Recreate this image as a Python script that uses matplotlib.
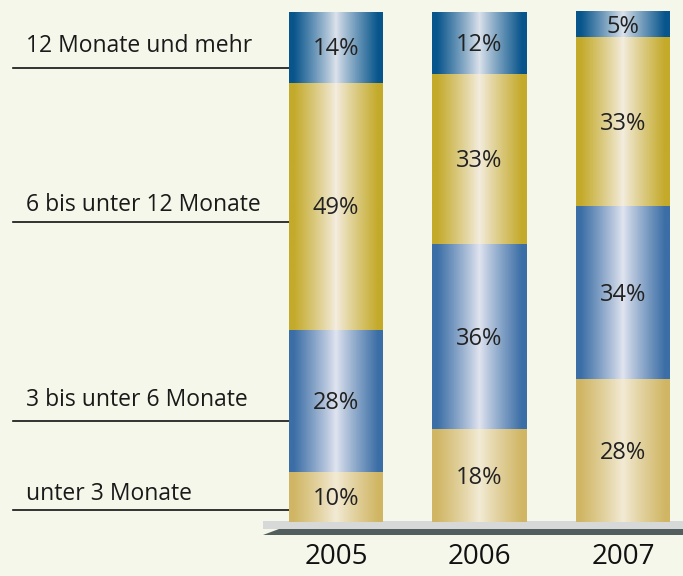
import numpy as np
import matplotlib
matplotlib.use("Agg")
import matplotlib.pyplot as plt
import matplotlib.patches as mpatches
from matplotlib.colors import to_rgb

# ******* data *******
years = ["2005", "2006", "2007"]
categories = ["unter 3 Monate", "3 bis unter 6 Monate",
              "6 bis unter 12 Monate", "12 Monate und mehr"]
v_unter3 = [10, 18, 28]
v_3bis6 = [28, 36, 34]
v_6bis12 = [49, 33, 33]
v_12mehr = [14, 12, 5]

# edge / centre colours of the gradients
edge_cols = ["#d0b664", "#3b6ea6", "#c4aa2a", "#08558c"]
mid_cols = ["#f3ebd6", "#e2e5f0", "#f4ede0", "#dde3ec"]

BG = "#f5f7ea"
W, H = 683, 576

matplotlib.rcParams['font.family'] = ['Open Sans', 'DejaVu Sans']


def px2x(px):
    return (px - 336) / 143.5


def px2y(py):
    return (522 - py) / 510.0


def gradient(edge, mid, n=200):
    t = np.abs(np.linspace(-1, 1, n))
    t = np.clip(t ** 0.9 * 1.1, 0, 1)
    e = np.array(to_rgb(edge))
    m = np.array(to_rgb(mid))
    row = m[None, :] + (e - m)[None, :] * t[:, None]
    return row[None, :, :]


def main():
    fig = plt.figure(figsize=(W / 100, H / 100), dpi=100, facecolor=BG)
    ax = fig.add_axes([0, 0, 1, 1])
    ax.set_facecolor(BG)
    ax.set_xlim(px2x(0), px2x(W))
    ax.set_ylim(px2y(H), px2y(0))
    ax.axis("off")

    series = [v_unter3, v_3bis6, v_6bis12, v_12mehr]
    width = 94 / 143.5
    for i, yr in enumerate(years):
        vals = [s[i] for s in series]
        total = float(sum(vals))
        bottom = 0.0
        for k, v in enumerate(vals):
            h = v / total
            ax.imshow(gradient(edge_cols[k], mid_cols[k]), aspect="auto",
                      extent=[i - width / 2, i + width / 2, bottom, bottom + h],
                      zorder=2, interpolation="bilinear")
            ax.text(i, bottom + h / 2 - 0.004, f"{v}%", ha="center", va="center",
                    fontsize=17, color="#222222", zorder=3)
            bottom += h
        ax.text(i, px2y(557), yr, ha="center", va="center",
                fontsize=20, color="#111111")

    # platform under the bars
    x0, x1 = px2x(263), px2x(683)
    ax.add_patch(mpatches.Rectangle((x0, px2y(529)), x1 - x0,
                                    px2y(521) - px2y(529),
                                    facecolor="#d7d8d8", edgecolor="none", zorder=1))
    ax.add_patch(mpatches.Polygon([(px2x(279), px2y(529)), (px2x(683), px2y(529)),
                                   (px2x(683), px2y(535)), (px2x(263), px2y(535))],
                                  closed=True, facecolor="#535f5f",
                                  edgecolor="none", zorder=1))

    # category labels on the left with underlines
    label_y = [494, 400, 205, 46]
    line_y = [510, 421, 222, 68]
    for k, cat in enumerate(categories):
        ax.text(px2x(26), px2y(label_y[k]), cat, ha="left", va="center",
                fontsize=16.5, color="#1a1a1a")
        ax.plot([px2x(13), px2x(289)], [px2y(line_y[k])] * 2,
                color="#111111", lw=1.2, zorder=1)

    fig.savefig("out.png", dpi=100, facecolor=BG)


if __name__ == "__main__":
    main()
